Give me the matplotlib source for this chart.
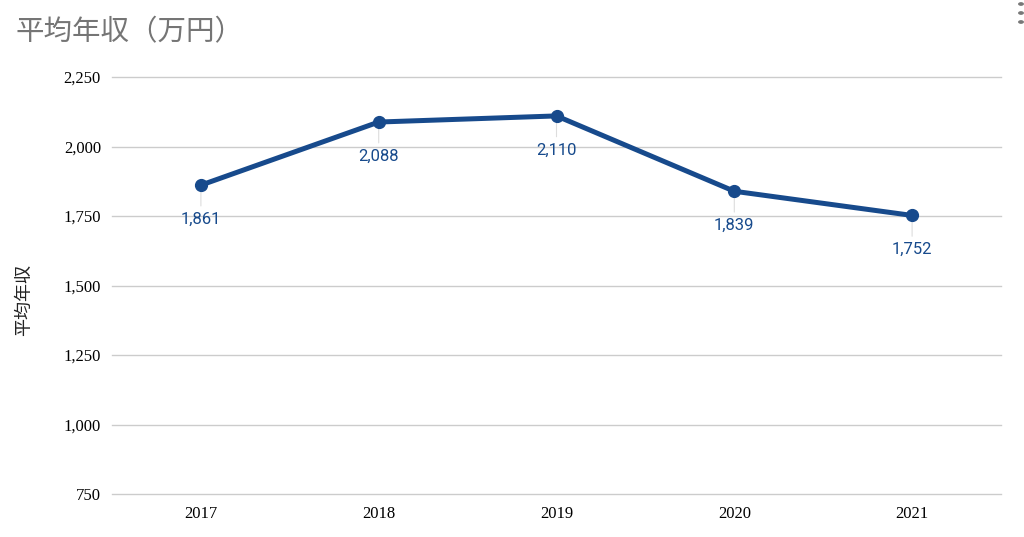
import matplotlib
matplotlib.use("Agg")
import matplotlib.pyplot as plt
from matplotlib.patches import Circle

years = ["2017", "2018", "2019", "2020", "2021"]
values = [1861, 2088, 2110, 1839, 1752]
yticks = [750, 1000, 1250, 1500, 1750, 2000, 2250]
title = "平均年収（万円）"
ylabel = "平均年収"

line_color = "#174A8C"
serif = ["Liberation Serif", "DejaVu Serif"]
cjk = ["Noto Sans CJK JP", "DejaVu Sans"]

fig = plt.figure(figsize=(10.24, 5.37), dpi=100)
ax = fig.add_axes([112/1024, 1-494/537, 889/1024, 417/537])

x = list(range(len(years)))
ax.plot(x, values, color=line_color, lw=3.6, marker="o", ms=8.5, zorder=3,
        solid_capstyle="round")

for xi, v in zip(x, values):
    ax.annotate(f"{v:,}", xy=(xi, v), xytext=(0, -24.5), textcoords="offset points",
                ha="center", va="center", fontsize=12, family="Roboto",
                color=line_color, zorder=4)
    ax.annotate("", xy=(xi, v), xytext=(0, -15), textcoords="offset points",
                arrowprops=dict(arrowstyle="-", color="#dddddd", lw=0.8,
                                shrinkA=0, shrinkB=0), zorder=2)

ax.set_xlim(-0.5, len(years) - 0.5)
ax.set_ylim(750, 2250)
ax.set_yticks(yticks)
ax.set_yticklabels([f"{t:,}" for t in yticks], family=serif, fontsize=12)
ax.set_xticks(x)
ax.set_xticklabels(years, family=serif, fontsize=12)
ax.tick_params(length=0, pad=8)
ax.tick_params(axis="x", pad=9)
ax.grid(axis="y", color="#cccccc", lw=1)
for gl in ax.get_ygridlines():
    gl.set_clip_on(False)
ax.set_axisbelow(True)
for s in ax.spines.values():
    s.set_visible(False)

fig.text(24/1024, 1-300/537, ylabel, family=cjk, fontsize=13, color="#222222",
         rotation=90, ha="center", va="center")

fig.text(16/1024, 1-32/537, title, family=cjk, fontsize=20.5, color="#757575",
         ha="left", va="center")

for yy in [4, 13, 22]:
    fig.add_artist(Circle((1021/1024, 1-yy/537), 2.2/1024, color="#777777",
                          transform=fig.transFigure))

fig.savefig("out.png", dpi=100)
